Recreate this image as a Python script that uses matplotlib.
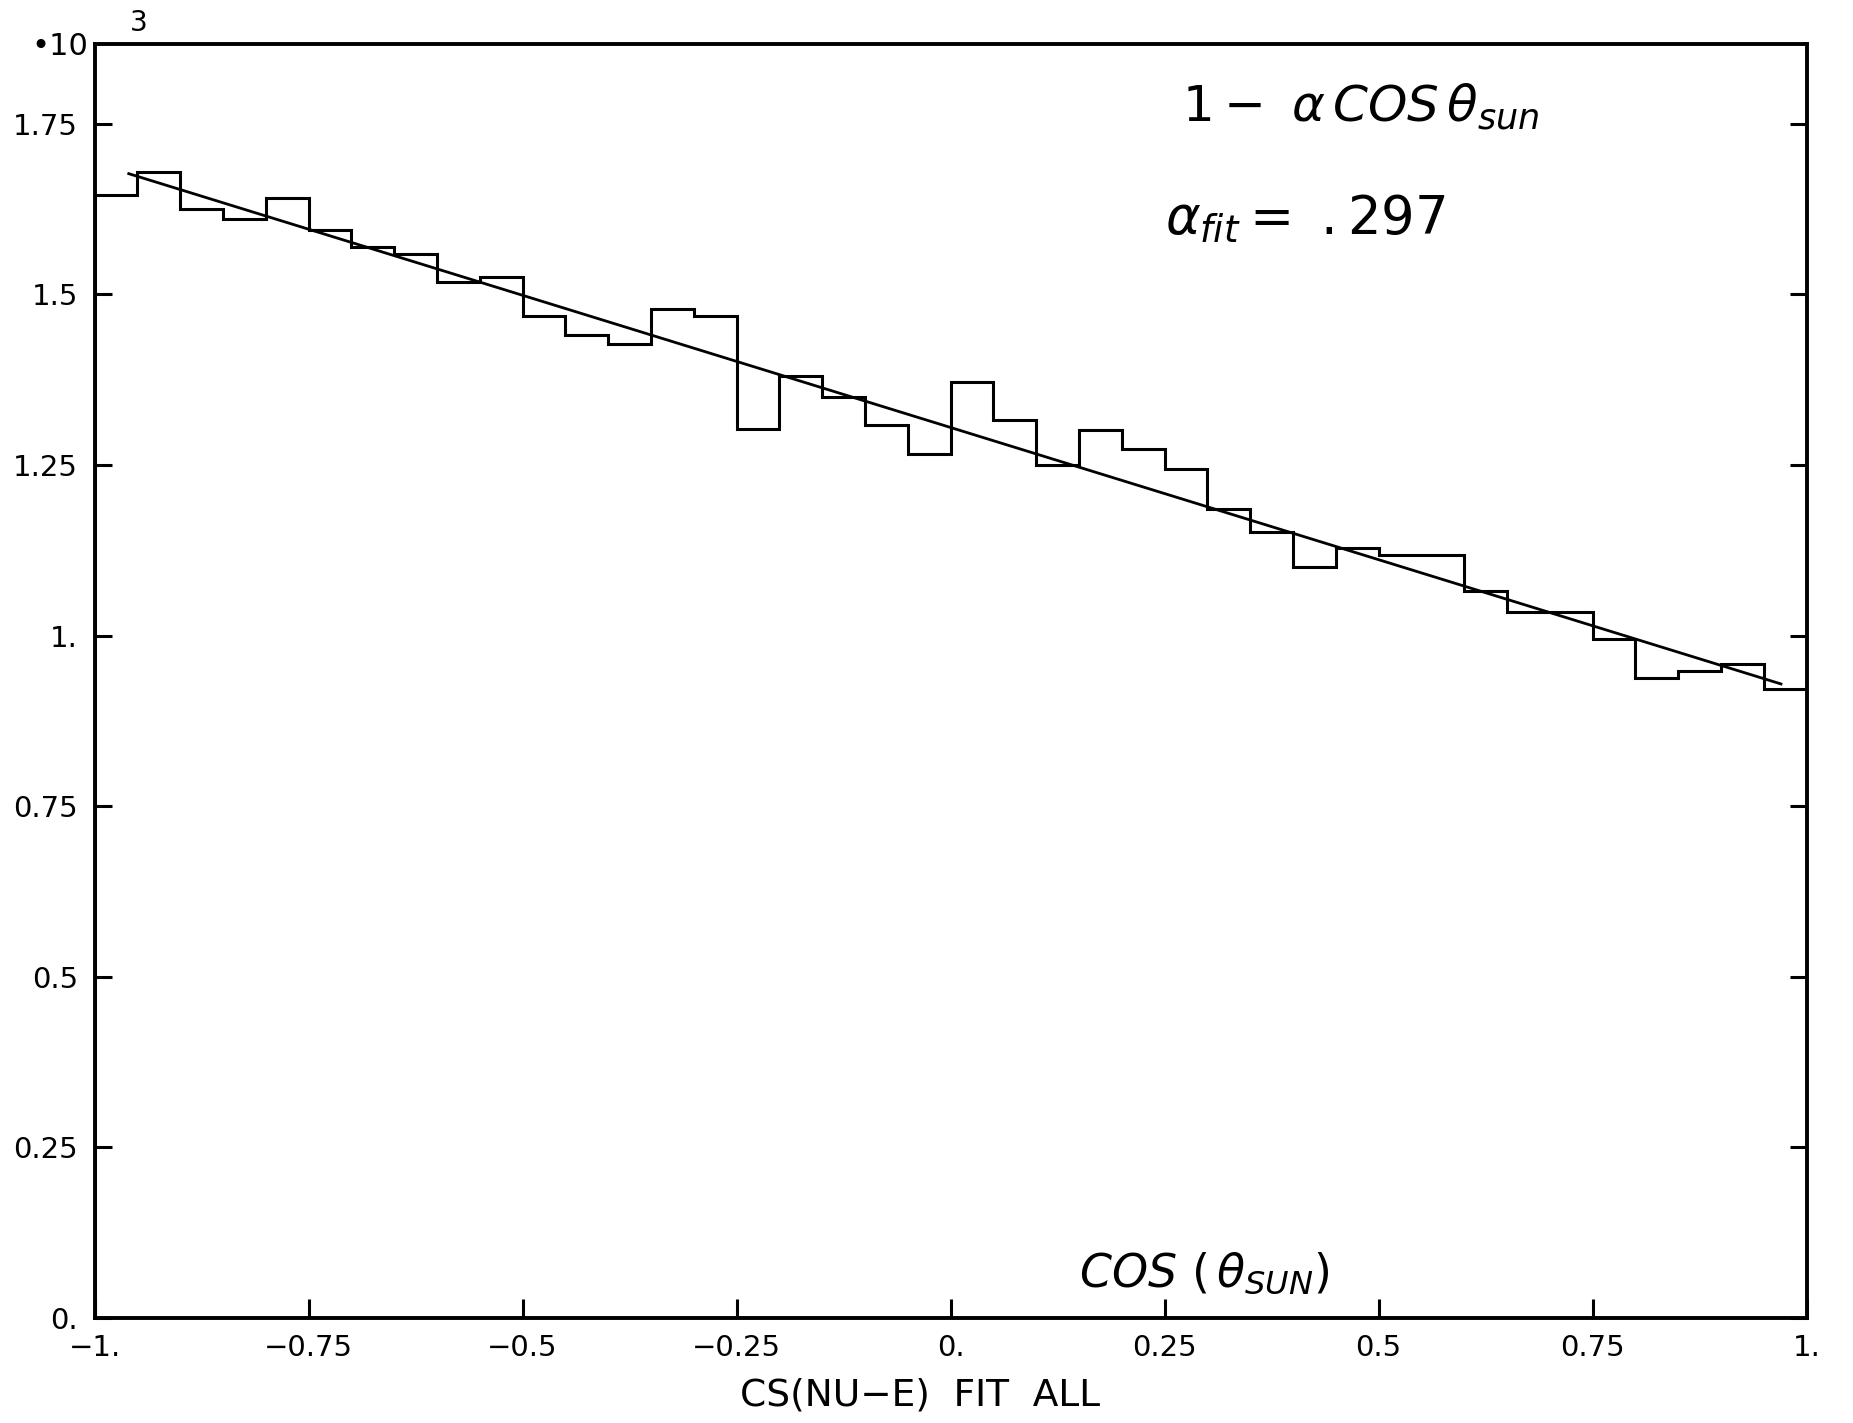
import numpy as np
import matplotlib
matplotlib.use("Agg")
import matplotlib.pyplot as plt

plt.rcParams['font.family'] = ['DejaVu Sans']

# cos(theta_sun) histogram, 40 bins from -1 to 1, counts in units of 10^3
bin_edges = np.linspace(-1.0, 1.0, 41)
counts = [1.646, 1.679, 1.626, 1.610, 1.642, 1.594, 1.570, 1.559, 1.519, 1.525,
          1.468, 1.440, 1.427, 1.479, 1.469, 1.303, 1.381, 1.350, 1.309, 1.266,
          1.371, 1.316, 1.250, 1.302, 1.274, 1.244, 1.185, 1.152, 1.101, 1.128,
          1.118, 1.118, 1.065, 1.034, 1.035, 0.995, 0.938, 0.948, 0.959, 0.922]

# fit 1 - alpha*cos(theta_sun)
alpha_fit = 0.297
norm = 1.305
fit_range = (-0.96, 0.97)

xticks = [-1.0, -0.75, -0.5, -0.25, 0.0, 0.25, 0.5, 0.75, 1.0]
xticklabels = ['\u22121.', '\u22120.75', '\u22120.5', '\u22120.25', '0.', '0.25', '0.5', '0.75', '1.']
yticks = [0.0, 0.25, 0.5, 0.75, 1.0, 1.25, 1.5, 1.75]
yticklabels = ['0.', '0.25', '0.5', '0.75', '1.', '1.25', '1.5', '1.75']

fig = plt.figure(figsize=(18.53, 14.23), dpi=100)
ax = fig.add_axes([0.051, 0.074, 0.924, 0.895])

ax.stairs(counts, bin_edges, color='black', linewidth=2.2)
xf = np.linspace(fit_range[0], fit_range[1], 50)
ax.plot(xf, norm * (1 - alpha_fit * xf), color='black', linewidth=2.0)

ax.set_xlim(-1, 1)
ax.set_ylim(0, 1.867)
for side in ['left', 'right', 'top', 'bottom']:
    ax.spines[side].set_linewidth(2.8)

ax.set_xticks(xticks)
ax.set_xticklabels(xticklabels, fontsize=21)
ax.set_yticks(yticks)
ax.set_yticklabels(yticklabels, fontsize=21)
ax.tick_params(axis='x', direction='in', length=14, width=2.2, pad=12, top=False)
ax.tick_params(axis='y', direction='in', length=12, width=2.2, pad=12, right=True)

ax.set_xlabel('CS(NU\u2212E)  FIT  ALL', fontsize=27)
ax.xaxis.set_label_coords(0.482, -0.047)

# exponent label for the y axis
fig.text(0.017, 0.967, '\u202210', fontsize=22, va='center')
fig.text(0.070, 0.984, '3', fontsize=20, va='center')

# annotations
ax.text(0.27, 1.775, r'$1-\ \alpha\,\mathit{COS}\,\theta_{sun}$', fontsize=36,
        va='center')
ax.text(0.25, 1.61, r'$\alpha_{fit}=\ .297$', fontsize=38, va='center')
ax.text(0.15, 0.065, r'$\mathit{COS}\ (\,\theta_{SUN})$', fontsize=33,
        va='center')

fig.savefig('out.png', dpi=100, facecolor='white')
